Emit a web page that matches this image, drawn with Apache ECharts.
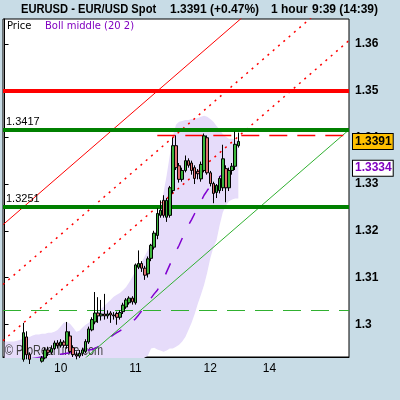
<!DOCTYPE html>
<html><head><meta charset="utf-8">
<script src="https://cdn.jsdelivr.net/npm/echarts@6/dist/echarts.min.js"></script>
<style>html,body{margin:0;padding:0;background:#c8dce6}#c{width:400px;height:400px}</style>
</head><body><div id="c"></div>
<script>
const slotCount = 111;
const xTickIndex = [18, 42, 66, 85];
const xTickLabels = ['10', '11', '12', '14'];
const yTickValues = [1.30, 1.31, 1.32, 1.33, 1.34, 1.35, 1.36];

const opens  = [1.2918,1.2921,1.2917,1.2920,1.2916,1.2922,1.2925,1.2973,1.2935,1.2925,1.2922,1.2926,1.2921,1.2928,1.2945,1.2940,1.2948,1.2960,1.2955,1.2962,1.2955,1.2975,1.2950,1.2935,1.2932,1.2938,1.2942,1.2962,1.2988,1.3005,1.3024,1.3018,1.3022,1.3018,1.3024,1.3020,1.3023,1.3015,1.3027,1.3037,1.3046,1.3056,1.3046,1.3122,1.3130,1.3120,1.3108,1.3141,1.3165,1.3190,1.3233,1.3265,1.3229,1.3233,1.3286,1.3382,1.3339,1.3310,1.3329,1.3350,1.3345,1.3335,1.3327,1.3311,1.3329,1.3399,1.3324,1.3301,1.3282,1.3286,1.3292,1.3333,1.3292,1.3329,1.3338,1.3382];
const closes = [1.2921,1.2917,1.2920,1.2916,1.2922,1.2926,1.2982,1.2935,1.2925,1.2922,1.2926,1.2921,1.2928,1.2945,1.2940,1.2948,1.2960,1.2955,1.2962,1.2955,1.2984,1.2942,1.2935,1.2932,1.2938,1.2945,1.2963,1.2990,1.3010,1.3024,1.3018,1.3022,1.3018,1.3022,1.3020,1.3018,1.3015,1.3025,1.3041,1.3052,1.3056,1.3048,1.3127,1.3130,1.3120,1.3105,1.3140,1.3169,1.3195,1.3237,1.3244,1.3233,1.3265,1.3292,1.3382,1.3335,1.3310,1.3329,1.3350,1.3340,1.3329,1.3312,1.3322,1.3342,1.3403,1.3324,1.3301,1.3280,1.3297,1.3312,1.3354,1.3292,1.3329,1.3338,1.3385,1.3391];
const lows   = [1.2912,1.2910,1.2912,1.2910,1.2912,1.2918,1.2920,1.2925,1.2915,1.2915,1.2916,1.2915,1.2918,1.2925,1.2932,1.2935,1.2945,1.2948,1.2950,1.2950,1.2948,1.2938,1.2930,1.2925,1.2928,1.2932,1.2938,1.2958,1.2985,1.3000,1.3003,1.3008,1.3010,1.3012,1.3003,1.3010,1.2999,1.3010,1.3022,1.3033,1.3042,1.3042,1.3042,1.3118,1.3112,1.3095,1.3100,1.3135,1.3160,1.3182,1.3228,1.3228,1.3219,1.3228,1.3280,1.3330,1.3303,1.3305,1.3325,1.3335,1.3320,1.3300,1.3310,1.3305,1.3325,1.3320,1.3295,1.3259,1.3270,1.3280,1.3285,1.3261,1.3285,1.3320,1.3330,1.3378];
const highs  = [1.2925,1.2924,1.2926,1.2924,1.2927,1.2929,1.3003,1.2985,1.2940,1.2929,1.2929,1.2929,1.2932,1.2950,1.2952,1.2955,1.2965,1.2966,1.2968,1.2966,1.3005,1.2985,1.2955,1.2942,1.2945,1.2950,1.2968,1.2995,1.3015,1.3069,1.3058,1.3052,1.3065,1.3030,1.3028,1.3026,1.3027,1.3030,1.3046,1.3056,1.3060,1.3060,1.3130,1.3158,1.3135,1.3125,1.3145,1.3172,1.3200,1.3248,1.3265,1.3276,1.3270,1.3296,1.3399,1.3404,1.3345,1.3335,1.3361,1.3355,1.3350,1.3340,1.3332,1.3348,1.3408,1.3404,1.3328,1.3305,1.3300,1.3316,1.3384,1.3340,1.3335,1.3345,1.3412,1.3410];

const bollMiddle = [1.2918,1.2919,1.2920,1.2921,1.2922,1.2923,1.2924,1.2925,1.2926,1.2927,1.2928,1.2929,1.2930,1.2931,1.2932,1.2933,1.2934,1.2935,1.2936,1.2937,1.2938,1.2939,1.2940,1.2941,1.2942,1.2943,1.2944,1.2945,1.2946,1.2948,1.2952,1.2956,1.2963,1.2967,1.2973,1.2978,1.2982,1.2986,1.2990,1.2995,1.2999,1.3005,1.3012,1.3020,1.3029,1.3037,1.3048,1.3056,1.3065,1.3073,1.3084,1.3097,1.3112,1.3127,1.3141,1.3156,1.3169,1.3184,1.3199,1.3212,1.3224,1.3237,1.3250,1.3263,1.3276,1.3286,1.3295,1.3303,1.3312,1.3316,1.3320,1.3324,1.3329,1.3331,1.3333,1.3334];
const bollUpper  = [1.2963,1.2963,1.2963,1.2963,1.2965,1.2967,1.2969,1.2971,1.2973,1.2976,1.2978,1.2978,1.2980,1.2980,1.2982,1.2982,1.2984,1.2988,1.2995,1.3003,1.3005,1.3001,1.2993,1.2984,1.2986,1.2993,1.2999,1.3003,1.3010,1.3018,1.3027,1.3033,1.3039,1.3046,1.3052,1.3059,1.3063,1.3067,1.3073,1.3080,1.3090,1.3101,1.3114,1.3124,1.3133,1.3146,1.3159,1.3171,1.3188,1.3210,1.3244,1.3282,1.3318,1.3361,1.3403,1.3427,1.3433,1.3435,1.3437,1.3437,1.3439,1.3439,1.3441,1.3444,1.3446,1.3444,1.3439,1.3433,1.3424,1.3416,1.3407,1.3401,1.3397,1.3397,1.3395,1.3393];
const bollLower  = [1.2901,1.2901,1.2900,1.2900,1.2899,1.2898,1.2897,1.2896,1.2896,1.2896,1.2896,1.2897,1.2897,1.2898,1.2898,1.2899,1.2899,1.2898,1.2896,1.2893,1.2891,1.2891,1.2893,1.2895,1.2895,1.2893,1.2891,1.2889,1.2887,1.2885,1.2883,1.2882,1.2883,1.2885,1.2888,1.2891,1.2895,1.2899,1.2903,1.2907,1.2911,1.2915,1.2918,1.2922,1.2925,1.2929,1.2933,1.2948,1.2950,1.2946,1.2944,1.2941,1.2944,1.2948,1.2948,1.2952,1.2956,1.2963,1.2973,1.2988,1.3003,1.3022,1.3044,1.3063,1.3084,1.3110,1.3141,1.3165,1.3180,1.3212,1.3239,1.3254,1.3263,1.3267,1.3269,1.3269];

const levelRed = 1.35;
const levelGreenHigh = 1.3417;
const levelGreenLow = 1.3251;
const levelGreenDashed = 1.3031;
const resistanceLevel = 1.3404;
const resistanceStart = 49;
const lastPrice = 1.3391;
const lastMiddle = 1.3334;
// channel lines: value at left edge, value at right edge
const channelRedSolid = [1.3213, 1.3854];
const channelRedDot1 = [1.3085, 1.3726];
const channelRedDot2 = [1.2965, 1.3607];
const channelGreen = [1.2775, 1.3416];

const FONT = 'Liberation Sans';
const categories = Array.from({length: slotCount}, (_, i) => 's' + i);
const candleData = opens.map((o, i) => [o, closes[i], lows[i], highs[i]]);
const bandWidth = bollUpper.map((u, i) => +(u - bollLower[i]).toFixed(5));
const xL = -0.5, xR = slotCount - 0.5;
function seg(v, style) {
  return {type: 'line', xAxisIndex: 1, yAxisIndex: 0, symbol: 'none', silent: true, z: 3,
    data: [[xL, v[0]], [xR, v[1]]], lineStyle: style};
}
function hline(v, color, width, type) {
  return {yAxis: v, lineStyle: {color: color, width: width, type: type || 'solid'}, label: {show: false}};
}
function lvlLabel(v) {
  return {show: true, position: 'insideStartTop', distance: [3, 2], formatter: String(v), color: '#000', fontFamily: FONT, fontSize: 11};
}
function boxLabel(v, bg, fg) {
  return {show: true, position: 'end', distance: 4, formatter: String(v), backgroundColor: bg, borderColor: '#000', borderWidth: 1,
    padding: [2, 1, 1, 2], color: fg, fontFamily: FONT, fontSize: 12, fontWeight: 'bold', opacity: 1};
}

const chart = echarts.init(document.getElementById('c'), null, {renderer: 'canvas'});
chart.setOption({
  animation: false,
  backgroundColor: '#c8dce6',
  grid: {left: 3, right: 51, top: 19, bottom: 43, show: true, backgroundColor: '#ffffff', borderColor: '#000', borderWidth: 1},
  xAxis: [{
    type: 'category', data: categories, boundaryGap: true,
    axisLine: {lineStyle: {color: '#000', width: 1}},
    axisTick: {alignWithLabel: true, length: 4, interval: (i) => xTickIndex.includes(i), lineStyle: {color: '#000'}},
    axisLabel: {interval: (i) => xTickIndex.includes(i), margin: 6, color: '#000', fontFamily: FONT, fontSize: 12,
      formatter: (v, i) => { const k = xTickIndex.indexOf(i); return k >= 0 ? xTickLabels[k] : ''; }},
    splitLine: {show: false}
  }, {
    type: 'value', min: xL, max: xR, show: false
  }],
  yAxis: [{
    type: 'value', position: 'right', min: 1.2930, max: 1.3653, scale: true,
    axisLine: {show: true, lineStyle: {color: '#000', width: 1}},
    axisTick: {show: true, customValues: yTickValues, length: 4, lineStyle: {color: '#000'}},
    axisLabel: {customValues: yTickValues, margin: 6, color: '#000', fontFamily: FONT, fontSize: 12, fontWeight: 'bold',
      formatter: (v) => String(Math.round(v * 100) / 100)},
    splitLine: {show: false}
  }],
  graphic: [
    {type: 'text', left: 21, top: 4, z: 100, scaleX: 0.93, style: {text: 'EURUSD - EUR/USD Spot', font: 'bold 12px "Liberation Sans"', fill: '#000'}},
    {type: 'text', left: 170, top: 4, z: 100, style: {text: '1.3391 (+0.47%)', font: 'bold 12px "Liberation Sans"', fill: '#000'}},
    {type: 'text', left: 271, top: 4, z: 100, style: {text: '1 hour', font: 'bold 12px "Liberation Sans"', fill: '#000'}},
    {type: 'text', left: 312, top: 4, z: 100, style: {text: '9:39 (14:39)', font: 'bold 12px "Liberation Sans"', fill: '#000'}},
    {type: 'text', left: 7, top: 21, z: 100, style: {text: 'Price', font: '10px "DejaVu Sans"', fill: '#000'}},
    {type: 'text', left: 45, top: 21, z: 100, style: {text: 'Boll middle (20 2)', font: '10px "DejaVu Sans"', fill: '#8000c0'}},
    {type: 'text', left: 5, top: 344, z: 2, scaleX: 0.78, style: {text: '\u00a9 ProRealTime.com', font: '14px "Liberation Sans"', fill: '#404040'}}
  ],
  series: [
    {type: 'line', name: 'bandBase', stack: 'band', data: bollLower, symbol: 'none', silent: true, z: 1,
      lineStyle: {opacity: 0}},
    {type: 'line', name: 'band', stack: 'band', data: bandWidth, symbol: 'none', silent: true, z: 1,
      lineStyle: {opacity: 0}, areaStyle: {color: '#e6dcfa', opacity: 1}},
    {type: 'line', name: 'Boll middle', data: bollMiddle, symbol: 'none', silent: true, z: 2,
      lineStyle: {color: '#8000d0', width: 1.5, type: [12, 16]}},
    seg(channelRedSolid, {color: '#ff0000', width: 1}),
    seg(channelRedDot1, {color: '#ff0000', width: 1.5, type: [2, 5]}),
    seg(channelRedDot2, {color: '#ff0000', width: 1.5, type: [2, 5]}),
    seg(channelGreen, {color: '#30b030', width: 1}),
    {type: 'line', xAxisIndex: 1, symbol: 'none', silent: true, z: 3,
      data: [[resistanceStart, resistanceLevel], [xR, resistanceLevel]],
      lineStyle: {color: '#ff0000', width: 1.5, type: [18, 10]}},
    {type: 'candlestick', name: 'Price', data: candleData, barWidth: 3, z: 5,
      itemStyle: {color: '#3cb43c', color0: '#e07070', borderColor: '#000', borderColor0: '#000', borderWidth: 1}},
    {type: 'line', name: 'levels', data: bollMiddle, symbol: 'none', silent: true, z: 6,
      lineStyle: {opacity: 0},
      markLine: {symbol: 'none', silent: true, animation: false, precision: 4,
        data: [
          hline(levelRed, '#ff0000', 4),
          Object.assign(hline(levelGreenHigh, '#008000', 4), {label: lvlLabel(levelGreenHigh)}),
          Object.assign(hline(levelGreenLow, '#008000', 4), {label: lvlLabel(levelGreenLow)}),
          hline(levelGreenDashed, '#30b030', 1, [18, 10]),
          {yAxis: lastPrice, lineStyle: {color: 'rgba(0,0,0,0)', width: 0}, label: boxLabel(lastPrice, '#ffc000', '#000')},
          {yAxis: lastMiddle, lineStyle: {color: 'rgba(0,0,0,0)', width: 0}, label: boxLabel(lastMiddle, '#ffffff', '#8000c0')}
        ]}}
  ]
});
</script></body></html>
